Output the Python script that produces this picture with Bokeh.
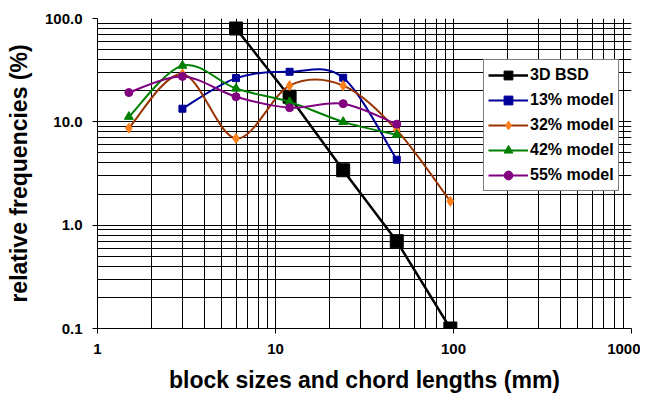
import numpy as np
from bokeh.plotting import figure
from bokeh.models import Range1d, FixedTicker, Legend, LegendItem, ColumnDataSource
from bokeh.embed import file_html
from bokeh.resources import INLINE

FONT = "Liberation Sans"

# ---- data ----
x_ticks = [1, 10, 100, 1000]
x_tick_labels = ["1", "10", "100", "1000"]
y_ticks = [0.1, 1, 10, 100]
y_tick_labels = ["0.1", "1.0", "10.0", "100.0"]

bsd_x = [6, 12, 24, 48, 96]
bsd_y = [80, 17.5, 3.4, 0.7, 0.1]

m13_x = [3, 6, 12, 24, 48]
m13_y = [13.4, 26.5, 30.5, 26.7, 4.3]

m32_x = [1.5, 3, 6, 12, 24, 48, 96]
m32_y = [8.7, 29, 6.9, 22.4, 22.4, 8.3, 1.7]

m42_x = [1.5, 3, 6, 12, 24, 48]
m42_y = [11.2, 35, 21, 15.6, 10, 7.5]

m55_x = [1.5, 3, 6, 12, 24, 48]
m55_y = [19.2, 27.5, 17.5, 13.7, 15, 9.5]


def smooth_segments(xs, ys):
    """Catmull-Rom style cubic Bezier control points in log-log space."""
    lx, ly = np.log10(xs), np.log10(ys)
    n = len(lx)
    d = {k: [] for k in ("x0", "y0", "x1", "y1", "cx0", "cy0", "cx1", "cy1")}
    for i in range(n - 1):
        a = i - 1 if i > 0 else i
        b = i + 2 if i + 2 < n else i + 1
        d["x0"].append(10 ** lx[i]); d["y0"].append(10 ** ly[i])
        d["x1"].append(10 ** lx[i + 1]); d["y1"].append(10 ** ly[i + 1])
        d["cx0"].append(10 ** (lx[i] + (lx[i + 1] - lx[a]) / 6))
        d["cy0"].append(10 ** (ly[i] + (ly[i + 1] - ly[a]) / 6))
        d["cx1"].append(10 ** (lx[i + 1] - (lx[b] - lx[i]) / 6))
        d["cy1"].append(10 ** (ly[i + 1] - (ly[b] - ly[i]) / 6))
    return ColumnDataSource(d)


p = figure(width=640, height=398, x_axis_type="log", y_axis_type="log",
           x_range=Range1d(1, 1000), y_range=Range1d(0.1, 100),
           output_backend="svg", toolbar_location=None,
           min_border_left=97, min_border_right=9, min_border_top=18, min_border_bottom=70)
p.outline_line_color = None
p.background_fill_color = "white"

x_minor = [m * 10 ** e for e in range(0, 3) for m in range(2, 10)]
y_minor = [m * 10 ** e for e in range(-1, 2) for m in range(2, 10)]
p.xaxis.ticker = FixedTicker(ticks=x_ticks, minor_ticks=x_minor)
p.yaxis.ticker = FixedTicker(ticks=y_ticks, minor_ticks=y_minor)
p.xaxis.major_label_overrides = {t: s for t, s in zip(x_ticks, x_tick_labels)}
p.yaxis.major_label_overrides = {t: s for t, s in zip(y_ticks, y_tick_labels)}

for g in (p.xgrid, p.ygrid):
    g.grid_line_color = "#000000"
    g.grid_line_width = 1
    g.minor_grid_line_color = "#000000"
    g.minor_grid_line_width = 1

for ax in (p.xaxis, p.yaxis):
    ax.axis_line_color = "black"
    ax.major_tick_line_color = "black"
    ax.minor_tick_line_color = None
    ax.major_tick_in = 0
    ax.major_tick_out = 5
    ax.major_label_standoff = 10
    ax.major_label_text_font = FONT
    ax.major_label_text_font_style = "bold"
    ax.major_label_text_font_size = "15px"
    ax.major_label_text_color = "black"
    ax.axis_label_text_font = FONT
    ax.axis_label_text_font_style = "bold"
    ax.axis_label_text_font_size = "23px"
    ax.axis_label_text_color = "black"

p.xaxis.axis_label = "block sizes and chord lengths (mm)"
p.yaxis.axis_label = "relative frequencies (%)"
p.xaxis.axis_label_standoff = 10
p.yaxis.axis_label_standoff = 10

items = []

# 3D BSD: straight black line with big squares
r_l = p.line(bsd_x, bsd_y, line_color="black", line_width=2.5, line_join="round")
r_m = p.scatter(bsd_x, bsd_y, marker="square", size=13, fill_color="black", line_color="black")
items.append(LegendItem(label="3D BSD", renderers=[r_l, r_m]))

series = [
    ("13% model", m13_x, m13_y, "#000099", "#000099", "square", 7),
    ("32% model", m32_x, m32_y, "#993300", "#FF7F1A", "diamond", 10),
    ("42% model", m42_x, m42_y, "#008000", "#008000", "triangle", 9),
    ("55% model", m55_x, m55_y, "#800080", "#800080", "circle", 8),
]
for label, xs, ys, lc, mc, mk, sz in series:
    rb = p.bezier(x0="x0", y0="y0", x1="x1", y1="y1", cx0="cx0", cy0="cy0",
                  cx1="cx1", cy1="cy1", source=smooth_segments(xs, ys),
                  line_color=lc, line_width=2)
    rs = p.scatter(xs, ys, marker=mk, size=sz, fill_color=mc, line_color=mc)
    items.append(LegendItem(label=label, renderers=[rb, rs]))

legend = Legend(items=items, location=(386, 137), padding=4, spacing=3, margin=0,
                glyph_width=40, glyph_height=22, label_height=22, label_standoff=2,
                label_text_font=FONT, label_text_font_style="bold",
                label_text_font_size="16px", label_text_color="black",
                border_line_color="black", border_line_width=1,
                background_fill_color="white", background_fill_alpha=1.0)
p.add_layout(legend)

open("out.html", "w").write(file_html(p, INLINE))
